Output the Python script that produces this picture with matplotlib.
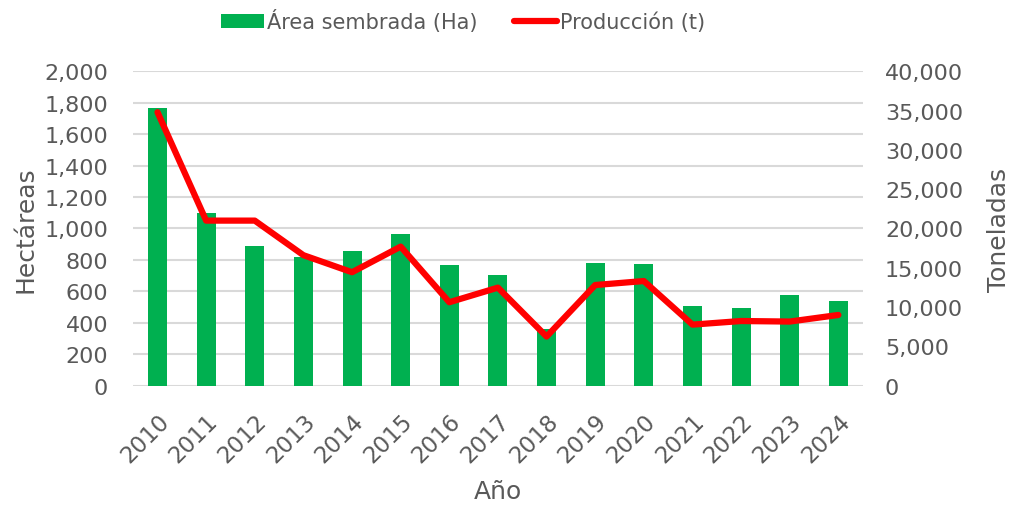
import matplotlib
matplotlib.use("Agg")
import matplotlib.pyplot as plt
from matplotlib.ticker import FuncFormatter, MultipleLocator

years = ["2010", "2011", "2012", "2013", "2014", "2015", "2016", "2017",
         "2018", "2019", "2020", "2021", "2022", "2023", "2024"]
area_ha = [1769, 1101, 887, 819, 859, 967, 766, 706, 363, 778, 776, 505, 492, 575, 541]
produccion_t = [34800, 21000, 21000, 16600, 14430, 17690, 10610, 12470,
                6240, 12800, 13310, 7760, 8220, 8150, 8990]

GREEN = "#00B050"
RED = "#FF0000"
TEXT = "#595959"
GRID = "#D9D9D9"

plt.rcParams["font.family"] = ["DejaVu Sans"]

fig = plt.figure(figsize=(10.09, 5.06), dpi=100)
ax = fig.add_axes([0.132, 0.236, 0.723, 0.621])
ax2 = ax.twinx()

x = list(range(len(years)))
bars = ax.bar(x, area_ha, width=0.39, color=GREEN, zorder=2, label="Área sembrada (Ha)")
line, = ax2.plot(x, produccion_t, color=RED, linewidth=4.5, solid_capstyle="round",
                 solid_joinstyle="round", zorder=3, label="Producción (t)")

ax.set_xlim(-0.5, len(years) - 0.5)
ax.set_ylim(0, 2000)
ax2.set_ylim(0, 40000)
ax.yaxis.set_major_locator(MultipleLocator(200))
ax2.yaxis.set_major_locator(MultipleLocator(5000))
ax.yaxis.set_major_formatter(FuncFormatter(lambda v, p: f"{v:,.0f}"))
ax2.yaxis.set_major_formatter(FuncFormatter(lambda v, p: f"{v:,.0f}"))

ax.grid(axis="y", color=GRID, linewidth=1.5, zorder=0)
ax.set_axisbelow(True)
for a in (ax, ax2):
    for s in a.spines.values():
        s.set_visible(False)
    a.tick_params(length=0, labelsize=16, colors=TEXT)
ax.tick_params(axis="y", pad=18)
ax2.tick_params(axis="y", pad=16)

ax.set_xticks(x)
ax.set_xticklabels(years, rotation=45, ha="right", rotation_mode="anchor")
ax.tick_params(axis="x", pad=17, labelsize=16.5)

ax.set_xlabel("Año", fontsize=18, color=TEXT, labelpad=9)
ax.set_ylabel("Hectáreas", fontsize=18, color=TEXT, labelpad=5)
ax2.set_ylabel("Toneladas", fontsize=18, color=TEXT, labelpad=17)

fig.legend(handles=[bars, line], loc="center", bbox_to_anchor=(463 / 1009, 1 - 21.5 / 506),
           ncol=2, frameon=False, fontsize=15, labelcolor=TEXT, handlelength=2.07,
           handleheight=0.65, handletextpad=0.15, columnspacing=1.73)

fig.savefig("out.png", dpi=100)
